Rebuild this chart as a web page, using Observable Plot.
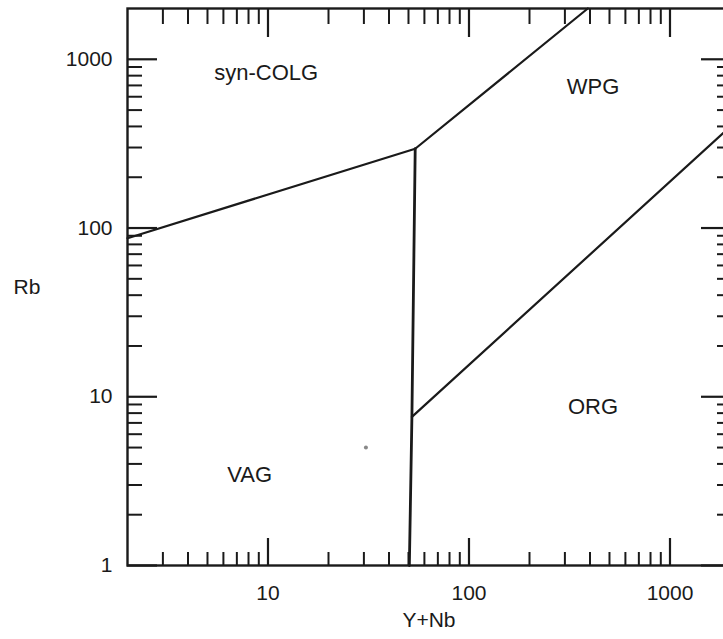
<!DOCTYPE html>
<html><head><meta charset="utf-8">
<script src="https://cdn.jsdelivr.net/npm/d3@7"></script>
<script src="https://cdn.jsdelivr.net/npm/@observablehq/plot@0.6"></script>
<style>
html,body{margin:0;padding:0;background:#fff;overflow:hidden;}
</style></head><body><div id="chart"></div>
<script>
// Boundary lines (Y+Nb, Rb)
const syncolgVagYNb = [2, 54];
const syncolgVagRb = [87, 295];
const syncolgWpgYNb = [54, 390];
const syncolgWpgRb = [295, 2000];
const vagOrgYNb = [54, 52, 50.5];
const vagOrgRb = [295, 7.6, 1];
const orgWpgYNb = [52, 2000];
const orgWpgRb = [7.6, 400];
// Field labels
const fieldNames = ["syn-COLG", "WPG", "ORG", "VAG"];
const fieldYNb = [9.8, 414, 414, 8.1];
const fieldRb = [827, 683, 8.7, 3.42];
// Sample point
const sampleYNb = [30.7];
const sampleRb = [5.0];
// Ticks
const xMajorTicks = [10, 100, 1000];
const xMinorTicks = [3,4,5,6,7,8,9,20,30,40,50,60,70,80,90,200,300,400,500,600,700,800,900];
const yMajorTicks = [1, 10, 100, 1000];
const yMinorTicks = [2,3,4,5,6,7,8,9,20,30,40,50,60,70,80,90,200,300,400,500,600,700,800,900];
const xLabel = "Y+Nb";
const yLabel = "Rb";

const ink = "#1a1a1a";
const fmt = d3.format("d");

const plot = Plot.plot({
  width: 723, height: 639,
  marginLeft: 127, marginRight: -7, marginTop: 8, marginBottom: 74,
  x: {type: "log", domain: [2, 2000]},
  y: {type: "log", domain: [1, 2000]},
  style: {fontFamily: "'Liberation Sans', Arial, sans-serif", fontSize: "21px", color: ink, background: "white"},
  marks: [
    // inward ticks, bottom
    Plot.axisX(xMinorTicks, {anchor: "bottom", tickSize: -13, text: null, label: null, strokeWidth: 2, stroke: ink}),
    Plot.axisX(xMajorTicks, {anchor: "bottom", tickSize: -27, text: null, label: null, strokeWidth: 2.2, stroke: ink}),
    Plot.axisX(xMajorTicks, {anchor: "bottom", tickSize: 0, tickPadding: 20, tickFormat: fmt, label: null, fontSize: 21, fill: ink}),
    // inward ticks, top
    Plot.axisX(xMinorTicks, {anchor: "top", tickSize: -15, text: null, label: null, strokeWidth: 2, stroke: ink}),
    Plot.axisX(xMajorTicks, {anchor: "top", tickSize: -28, text: null, label: null, strokeWidth: 2.2, stroke: ink}),
    // inward ticks, left
    Plot.axisY(yMinorTicks, {anchor: "left", tickSize: -15, text: null, label: null, strokeWidth: 2, stroke: ink}),
    Plot.axisY(yMajorTicks, {anchor: "left", tickSize: -30, text: null, label: null, strokeWidth: 2.2, stroke: ink}),
    Plot.axisY(yMajorTicks, {anchor: "left", tickSize: 0, tickPadding: 15, tickFormat: fmt, label: null, fontSize: 21, fill: ink}),
    // inward ticks, right
    Plot.axisY(yMinorTicks, {anchor: "right", tickSize: -14, text: null, label: null, strokeWidth: 2, stroke: ink}),
    Plot.axisY(yMajorTicks, {anchor: "right", tickSize: -30, text: null, label: null, strokeWidth: 2.2, stroke: ink}),
    Plot.frame({stroke: ink, strokeWidth: 2.4}),
    Plot.line(syncolgVagYNb, {x: syncolgVagYNb, y: syncolgVagRb, stroke: ink, strokeWidth: 2.2}),
    Plot.line(syncolgWpgYNb, {x: syncolgWpgYNb, y: syncolgWpgRb, stroke: ink, strokeWidth: 2.2}),
    Plot.line(vagOrgYNb, {x: vagOrgYNb, y: vagOrgRb, stroke: ink, strokeWidth: 2.8}),
    Plot.line(orgWpgYNb, {x: orgWpgYNb, y: orgWpgRb, stroke: ink, strokeWidth: 2.2}),
    Plot.dot(sampleYNb, {x: sampleYNb, y: sampleRb, r: 2, fill: "#888", stroke: null}),
    Plot.text(fieldNames, {x: fieldYNb, y: fieldRb, text: d => d, fontSize: 22, fill: ink}),
    Plot.text([yLabel], {frameAnchor: "left", dx: -114, textAnchor: "start", fontSize: 21, fill: ink}),
    Plot.text([xLabel], {frameAnchor: "bottom", dy: 61, fontSize: 21, fill: ink})
  ]
});
document.getElementById("chart").appendChild(plot);
</script></body></html>
